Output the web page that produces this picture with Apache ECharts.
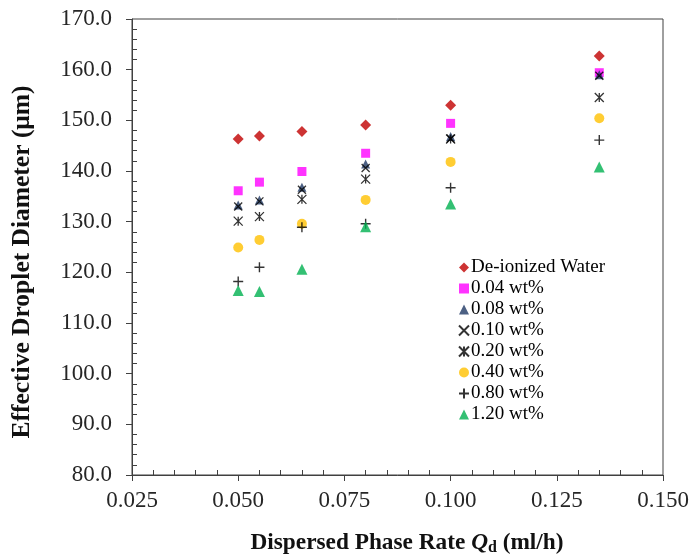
<!DOCTYPE html>
<html>
<head>
<meta charset="utf-8">
<script src="https://cdn.jsdelivr.net/npm/echarts@6/dist/echarts.min.js"></script>
<style>html,body{margin:0;padding:0;background:#fff}#c{width:695px;height:559px}</style>
</head>
<body>
<div id="c"></div>
<script>
const rates = [0.050, 0.055, 0.065, 0.080, 0.100, 0.135];
const seriesNames = ['De-ionized Water', '0.04 wt%', '0.08 wt%', '0.10 wt%', '0.20 wt%', '0.40 wt%', '0.80 wt%', '1.20 wt%'];
const deionized = [146.3, 146.9, 147.8, 149.1, 153.0, 162.7];
const wt004 = [136.1, 137.8, 139.9, 143.5, 149.4, 159.4];
const wt008 = [133.3, 134.3, 136.8, 141.4, 146.8, 159.0];
const wt010 = [133.0, 134.0, 136.3, 140.6, 146.4, 158.8];
const wt020 = [130.1, 131.0, 134.4, 138.4, 146.3, 154.5];
const wt040 = [124.9, 126.4, 129.6, 134.3, 141.8, 150.4];
const wt080 = [118.2, 121.0, 128.9, 129.6, 136.7, 146.1];
const wt120 = [116.4, 116.2, 120.6, 129.0, 133.5, 140.8];
const xTicks = [0.025, 0.050, 0.075, 0.100, 0.125, 0.150];
const yTicks = [80, 90, 100, 110, 120, 130, 140, 150, 160, 170];

const FONT = '"Liberation Serif", "Times New Roman", serif';
const pairs = ys => rates.map((x, i) => [x, ys[i]]);
const X_PATH = 'path://M0,0L10,10M10,0L0,10';
const AST_PATH = 'path://M0,0L10,10M10,0L0,10M5,0L5,10';
const PLUS_PATH = 'path://M5,0L5,10M0,5L10,5';

const styles = [
  {data: deionized, symbol: 'diamond', size: 11, item: {color: '#C00000'}},
  {data: wt004, symbol: 'rect', size: 9, item: {color: '#FF00FF'}},
  {data: wt008, symbol: 'triangle', size: 9, item: {color: '#1F3864'}},
  {data: wt010, symbol: X_PATH, size: 8, item: {color: 'rgba(0,0,0,0)', borderColor: '#000', borderWidth: 1.3}},
  {data: wt020, symbol: AST_PATH, size: 9, item: {color: 'rgba(0,0,0,0)', borderColor: '#000', borderWidth: 1.3}},
  {data: wt040, symbol: 'circle', size: 10, item: {color: '#FFC000'}},
  {data: wt080, symbol: PLUS_PATH, size: 10, item: {color: 'rgba(0,0,0,0)', borderColor: '#000', borderWidth: 1.4}},
  {data: wt120, symbol: 'triangle', size: 11, item: {color: '#00B050'}}
];

const chart = echarts.init(document.getElementById('c'), null, {renderer: 'canvas'});
chart.setOption({
  animation: false,
  backgroundColor: '#fff',
  grid: {left: 132, right: 32, top: 19, bottom: 84, show: true, borderColor: '#404040', borderWidth: 1, backgroundColor: 'transparent'},
  xAxis: {
    type: 'value', min: xTicks[0], max: xTicks[xTicks.length - 1], interval: 0.025,
    axisLine: {show: true, onZero: false, lineStyle: {color: '#404040', width: 1}},
    axisTick: {show: true, inside: false, length: 6, lineStyle: {color: '#404040'}},
    minorTick: {show: true, splitNumber: 5, length: -5, lineStyle: {color: '#404040'}},
    splitLine: {show: false},
    axisLabel: {fontFamily: FONT, fontSize: 23, color: '#262626', margin: 14, formatter: v => v.toFixed(3)}
  },
  yAxis: {
    type: 'value', min: yTicks[0], max: yTicks[yTicks.length - 1], interval: 10,
    axisLine: {show: true, onZero: false, lineStyle: {color: '#404040', width: 1}},
    axisTick: {show: true, inside: false, length: 6, lineStyle: {color: '#404040'}},
    minorTick: {show: true, splitNumber: 5, length: -5, lineStyle: {color: '#404040'}},
    splitLine: {show: false},
    axisLabel: {fontFamily: FONT, fontSize: 23, color: '#262626', margin: 20, formatter: v => v.toFixed(1)}
  },
  legend: {
    orient: 'vertical', left: 453, top: 253,
    itemWidth: 10, itemHeight: 10, itemGap: 2,
    textStyle: {fontFamily: FONT, fontSize: 19, color: '#000', padding: [0, 0, 0, -3]},
    data: seriesNames
  },
  graphic: [
    {type: 'text', x: 22, y: 262, rotation: Math.PI / 2,
     style: {text: 'Effective Droplet Diameter (μm)', font: 'bold 25.5px ' + FONT, fill: '#111', textAlign: 'center', textVerticalAlign: 'middle'}},
    {type: 'text', x: 407, y: 543,
     style: {text: '{a|Dispersed Phase Rate }{q|Q}{s|d}{a| (ml/h)}', textAlign: 'center', textVerticalAlign: 'middle',
       rich: {
         a: {fontFamily: FONT, fontWeight: 'bold', fontSize: 23.3, fill: '#111', color: '#111'},
         q: {fontFamily: FONT, fontWeight: 'bold', fontStyle: 'italic', fontSize: 23.3, fill: '#111', color: '#111'},
         s: {fontFamily: FONT, fontWeight: 'bold', fontSize: 16, fill: '#111', color: '#111', padding: [9, 0, 0, 0]}
       }}}
  ],
  series: styles.map((s, i) => ({
    name: seriesNames[i], type: 'scatter', data: pairs(s.data),
    symbol: s.symbol, symbolSize: s.size, itemStyle: s.item, z: 2 + i
  }))
});
</script>
</body>
</html>
